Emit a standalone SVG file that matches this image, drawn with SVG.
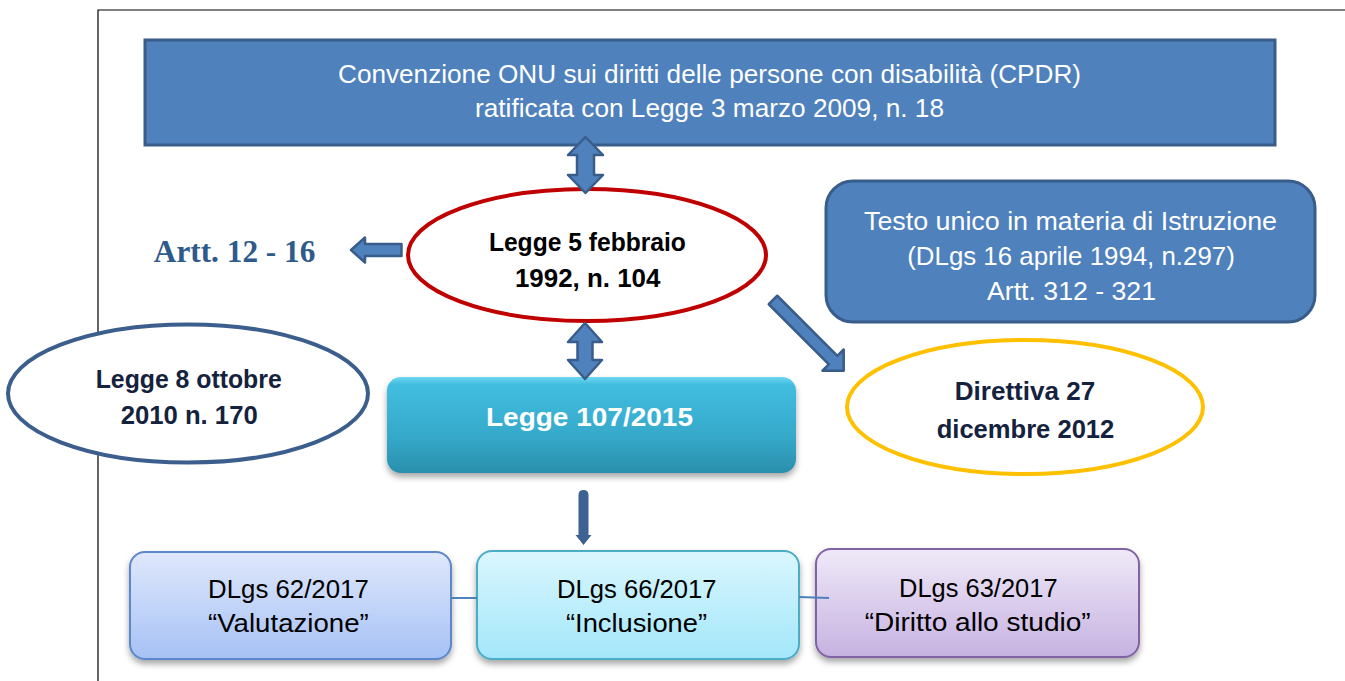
<svg xmlns="http://www.w3.org/2000/svg" width="1345" height="681" viewBox="0 0 1345 681">
<style>
.t { font-family: "Liberation Sans", Arial, sans-serif; font-size: 25px; text-anchor: middle; }
.b { font-weight: bold; }
.w { fill: #ffffff; }
.k { fill: #000000; }
.n { fill: #14223D; }
.blk { fill: #4F81BD; stroke: #385D8A; stroke-width: 3; }
.arr { fill: #4F81BD; stroke: #385D8A; stroke-width: 2.5; stroke-linejoin: round; }
.ell { fill: #ffffff; stroke-width: 4; }
.lnk { stroke: #4F81BD; stroke-width: 2; fill: none; }
</style>
<defs>
  <linearGradient id="g107" x1="0" y1="0" x2="0" y2="1">
    <stop offset="0" stop-color="#6ED8F0"/>
    <stop offset="0.08" stop-color="#41BDE0"/>
    <stop offset="0.6" stop-color="#36AACB"/>
    <stop offset="1" stop-color="#2A8FAC"/>
  </linearGradient>
  <linearGradient id="g62" x1="0" y1="0" x2="0" y2="1">
    <stop offset="0" stop-color="#DFE8FC"/>
    <stop offset="1" stop-color="#A6C1F5"/>
  </linearGradient>
  <linearGradient id="g66" x1="0" y1="0" x2="0" y2="1">
    <stop offset="0" stop-color="#DAF6FD"/>
    <stop offset="1" stop-color="#A3E7FA"/>
  </linearGradient>
  <linearGradient id="g63" x1="0" y1="0" x2="0" y2="1">
    <stop offset="0" stop-color="#EFE9F8"/>
    <stop offset="1" stop-color="#C6B2E1"/>
  </linearGradient>
  <filter id="sh" x="-10%" y="-20%" width="120%" height="150%">
    <feDropShadow dx="0" dy="4" stdDeviation="3" flood-color="#000" flood-opacity="0.35"/>
  </filter>
</defs>

<g id="frame" fill="none" stroke="#000" stroke-width="1.2">
  <path d="M98,681 L98,10 L1345,10"/>
</g>

<g id="onu">
  <rect class="blk" x="145" y="40" width="1130" height="105"/>
  <text class="t w" x="709.5" y="83" textLength="743" lengthAdjust="spacingAndGlyphs">Convenzione ONU sui diritti delle persone con disabilità (CPDR)</text>
  <text class="t w" x="709.5" y="117" textLength="469" lengthAdjust="spacingAndGlyphs">ratificata con Legge 3 marzo 2009, n. 18</text>
</g>

<g id="legge104">
  <ellipse class="ell" cx="587" cy="255" rx="179" ry="66" stroke="#C00000"/>
  <text class="t b k" x="587.4" y="251" textLength="197" lengthAdjust="spacingAndGlyphs">Legge 5 febbraio</text>
  <text class="t b k" x="587.7" y="287" textLength="145.5" lengthAdjust="spacingAndGlyphs">1992, n. 104</text>
</g>

<g id="artt">
  <text x="153.8" y="262" font-family="'Liberation Serif', 'Times New Roman', serif" font-weight="bold" font-size="31" fill="#2E5A8C" textLength="161.6" lengthAdjust="spacingAndGlyphs">Artt. 12 - 16</text>
</g>

<g id="testounico">
  <rect class="blk" x="826" y="181" width="489" height="141" rx="27"/>
  <text class="t w" x="1070.5" y="230" textLength="413" lengthAdjust="spacingAndGlyphs">Testo unico in materia di Istruzione</text>
  <text class="t w" x="1071" y="265" textLength="327.5" lengthAdjust="spacingAndGlyphs">(DLgs 16 aprile 1994, n.297)</text>
  <text class="t w" x="1071.5" y="300" textLength="169" lengthAdjust="spacingAndGlyphs">Artt. 312 - 321</text>
</g>

<g id="direttiva">
  <ellipse class="ell" cx="1025" cy="407" rx="178" ry="67" stroke="#FFC000"/>
  <text class="t b n" x="1025" y="400" textLength="140.4" lengthAdjust="spacingAndGlyphs">Direttiva 27</text>
  <text class="t b n" x="1025.5" y="438" textLength="177.6" lengthAdjust="spacingAndGlyphs">dicembre 2012</text>
</g>

<g id="legge170">
  <ellipse class="ell" cx="188" cy="393.5" rx="180" ry="69" stroke="#3B5E8C" stroke-width="4.5"/>
  <text class="t b n" x="188.7" y="387.5" textLength="186" lengthAdjust="spacingAndGlyphs">Legge 8 ottobre</text>
  <text class="t b n" x="189.2" y="424" textLength="137" lengthAdjust="spacingAndGlyphs">2010 n. 170</text>
</g>

<g id="legge107">
  <rect x="387" y="377" width="409" height="96" rx="14" fill="url(#g107)" filter="url(#sh)"/>
  <text class="t b w" x="589.5" y="426" font-size="28" textLength="207" lengthAdjust="spacingAndGlyphs">Legge 107/2015</text>
</g>

<g id="dlgs62">
  <rect x="130" y="552" width="321" height="107" rx="15" fill="url(#g62)" stroke="#5B87C9" stroke-width="2" filter="url(#sh)"/>
  <text class="t k" x="288.4" y="598" textLength="160.7" lengthAdjust="spacingAndGlyphs">DLgs 62/2017</text>
  <text class="t k" x="288.4" y="632" textLength="160.7" lengthAdjust="spacingAndGlyphs">“Valutazione”</text>
</g>

<g id="dlgs66">
  <rect x="477" y="551" width="322" height="108" rx="15" fill="url(#g66)" stroke="#4BACC6" stroke-width="2" filter="url(#sh)"/>
  <text class="t k" x="636.8" y="598" textLength="159.5" lengthAdjust="spacingAndGlyphs">DLgs 66/2017</text>
  <text class="t k" x="636.5" y="632" textLength="141" lengthAdjust="spacingAndGlyphs">“Inclusione”</text>
</g>

<g id="dlgs63">
  <rect x="816" y="549" width="323" height="108" rx="15" fill="url(#g63)" stroke="#8064A2" stroke-width="2" filter="url(#sh)"/>
  <text class="t k" x="978.3" y="597" textLength="158.5" lengthAdjust="spacingAndGlyphs">DLgs 63/2017</text>
  <text class="t k" x="977.7" y="631" textLength="226" lengthAdjust="spacingAndGlyphs">“Diritto allo studio”</text>
</g>

<g id="connectors">
  <path class="arr" d="M585.5,137 L603,155 L594,155 L594,175 L603,175 L585.5,193 L568,175 L577,175 L577,155 L568,155 Z"/>
  <path class="arr" d="M585,323 L602,342 L592.5,342 L592.5,360 L602,360 L585,379 L568,360 L577.5,360 L577.5,342 L568,342 Z"/>
  <path class="arr" d="M351,250 L365,237.5 L365,244 L401.5,244 L401.5,256 L365,256 L365,262.5 Z"/>
  <path class="arr" transform="translate(773,300) rotate(45)" d="M0,-6 L85,-6 L85,-15 L100,0 L85,15 L85,6 L0,6 Z"/>
  <path d="M578.5,495 Q578.5,490 583.5,490 Q588.5,490 588.5,495 L588.5,535 L591.5,535 L583.5,545 L575.5,535 L578.5,535 Z" fill="#3D6190"/>
  <line class="lnk" x1="451" y1="598" x2="477" y2="598"/>
  <line class="lnk" x1="799" y1="597" x2="829" y2="598"/>
</g>
</svg>
